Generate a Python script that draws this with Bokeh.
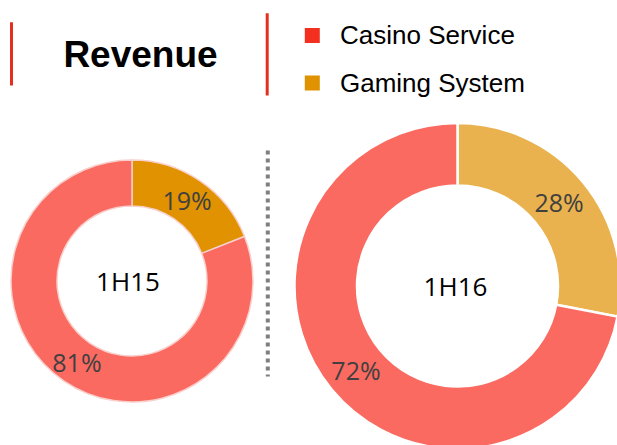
import numpy as np
from bokeh.plotting import figure
from bokeh.models import Range1d
from bokeh.core.properties import value
from bokeh.embed import file_html
from bokeh.resources import INLINE

# ---- data ----
periods = ["1H15", "1H16"]
gaming_share = [19, 28]
casino_share = [81, 72]
gaming_labels = ["19%", "28%"]
casino_labels = ["81%", "72%"]
legend_labels = ["Casino Service", "Gaming System"]
title_text = "Revenue"

# ---- styling / layout ----
W, H = 617, 445
legend_colors = ["#F3301F", "#E09200"]
casino_colors = ["#FA6A60", "#FA6A60"]
gaming_colors = ["#E09200", "#E9B24E"]
edge_colors = ["#F8CFCB", "#FFFFFF"]
edge_widths = [1.5, 2.5]
centers = [(131.5, 280.5), (457.0, 285.5)]
inner_r = [75.0, 100.5]
outer_r = [121.0, 163.0]
label_font = value("Open Sans")

p = figure(width=W, height=H, output_backend="svg", toolbar_location=None,
           x_range=Range1d(0, W), y_range=Range1d(0, H),
           x_axis_location=None, y_axis_location=None, min_border=0,
           background_fill_color="white", border_fill_color="white")
p.outline_line_color = None
p.grid.visible = False

def Y(img_y):
    return H - img_y

for i, per in enumerate(periods):
    cx, cy = centers[i][0], Y(centers[i][1])
    total = gaming_share[i] + casino_share[i]
    start = np.pi / 2
    g_end = start - 2 * np.pi * gaming_share[i] / total
    c_end = g_end - 2 * np.pi * casino_share[i] / total
    p.annular_wedge(x=cx, y=cy, inner_radius=inner_r[i], outer_radius=outer_r[i],
                    start_angle=g_end, end_angle=start, direction="anticlock",
                    fill_color=gaming_colors[i], line_color=edge_colors[i],
                    line_width=edge_widths[i])
    p.annular_wedge(x=cx, y=cy, inner_radius=inner_r[i], outer_radius=outer_r[i],
                    start_angle=c_end, end_angle=g_end, direction="anticlock",
                    fill_color=casino_colors[i], line_color=edge_colors[i],
                    line_width=edge_widths[i])
    rm = (inner_r[i] + outer_r[i]) / 2
    gm = (start + g_end) / 2
    cm = (g_end + c_end) / 2
    p.text(x=[cx + rm * np.cos(gm), cx + rm * np.cos(cm)],
           y=[cy + rm * np.sin(gm), cy + rm * np.sin(cm)],
           text=[gaming_labels[i], casino_labels[i]],
           text_font=label_font, text_font_size="25px", text_color="#404040",
           text_align="center", text_baseline="middle")
    p.text(x=[cx], y=[cy], text=[per], text_font=label_font, text_font_size="26px",
           text_color="#000000", text_align="center", text_baseline="middle",
           x_offset=-4 if i == 0 else -2)

# title and separators
p.text(x=[140], y=[Y(53.5)], text=[title_text], text_font=value("Liberation Sans"),
       text_font_style="bold", text_font_size="37px", text_color="#000000",
       text_align="center", text_baseline="middle")
p.segment(x0=[11, 266.7], y0=[Y(21.7), Y(12.7)], x1=[11, 266.7], y1=[Y(85), Y(95)],
          line_color="#E3301E", line_width=3)
p.segment(x0=[267.3], y0=[Y(150)], x1=[267.3], y1=[Y(376)],
          line_color="#7F7F7F", line_width=4, line_dash="4 4")

# legend
p.scatter(x=[311.8, 311.8], y=[Y(35), Y(82.5)], marker="square", size=15,
          fill_color=legend_colors, line_color=None)
p.text(x=[339.5, 339.5], y=[Y(34.8), Y(82.6)], text=legend_labels,
       text_font=value("Liberation Sans"), text_font_size="26px", text_color="#000000",
       text_align="left", text_baseline="middle")

open("out.html", "w").write(file_html(p, INLINE))
